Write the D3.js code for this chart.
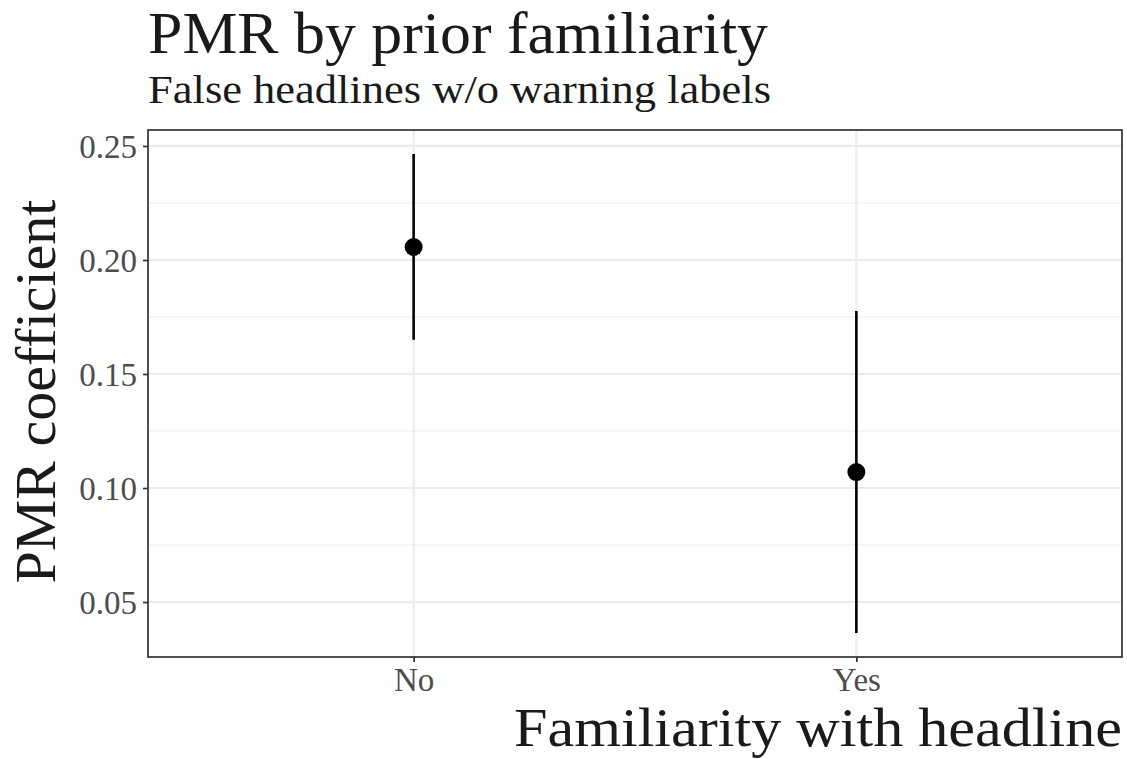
<!DOCTYPE html>
<html>
<head>
<meta charset="utf-8">
<script src="https://cdn.jsdelivr.net/npm/d3@7"></script>
<style>
  body { margin: 0; background: #fff; }
  svg text { font-family: "Liberation Serif", "DejaVu Serif", serif; }
</style>
</head>
<body>
<div id="chart"></div>
<script>
// data
var groups = ["No", "Yes"];
var estimates = [0.2057, 0.1070];
var lower = [0.1650, 0.0364];
var upper = [0.2465, 0.1776];
var yTicks = [0.05, 0.10, 0.15, 0.20, 0.25];
var yMinor = [0.075, 0.125, 0.175, 0.225];

function drawChart(el) {
  var W = 1127, H = 759;
  var margin = {top: 130, right: 5, bottom: 102, left: 148};
  var width = W - margin.left - margin.right,
      height = H - margin.top - margin.bottom;

  var svg = d3.select(el).append("svg")
      .attr("width", W)
      .attr("height", H);

  var g = svg.append("g")
      .attr("transform", "translate(" + margin.left + "," + margin.top + ")");

  // discrete x with ggplot style 0.6 expansion
  var x = d3.scaleLinear().domain([0.4, groups.length + 0.6]).range([0, width]);
  var lo = d3.min(lower), hi = d3.max(upper), pad = (hi - lo) * 0.05;
  var y = d3.scaleLinear().domain([lo - pad, hi + pad]).range([height, 0]);

  // grid
  g.selectAll(".minor").data(yMinor).enter().append("line")
      .attr("x1", 0).attr("x2", width)
      .attr("y1", function(d) { return y(d); })
      .attr("y2", function(d) { return y(d); })
      .attr("stroke", "#ebebeb").attr("stroke-width", 1.1);
  g.selectAll(".major").data(yTicks).enter().append("line")
      .attr("x1", 0).attr("x2", width)
      .attr("y1", function(d) { return y(d); })
      .attr("y2", function(d) { return y(d); })
      .attr("stroke", "#ebebeb").attr("stroke-width", 2.2);
  g.selectAll(".vmajor").data(groups).enter().append("line")
      .attr("x1", function(d, i) { return x(i + 1); })
      .attr("x2", function(d, i) { return x(i + 1); })
      .attr("y1", 0).attr("y2", height)
      .attr("stroke", "#ebebeb").attr("stroke-width", 2.2);

  // error bars
  g.selectAll(".err").data(groups).enter().append("line")
      .attr("x1", function(d, i) { return x(i + 1); })
      .attr("x2", function(d, i) { return x(i + 1); })
      .attr("y1", function(d, i) { return y(lower[i]); })
      .attr("y2", function(d, i) { return y(upper[i]); })
      .attr("stroke", "#000").attr("stroke-width", 2.6);

  // points
  g.selectAll(".pt").data(groups).enter().append("circle")
      .attr("cx", function(d, i) { return x(i + 1); })
      .attr("cy", function(d, i) { return y(estimates[i]); })
      .attr("r", 9)
      .attr("fill", "#000");

  // panel border
  g.append("rect")
      .attr("width", width).attr("height", height)
      .attr("fill", "none").attr("stroke", "#333333").attr("stroke-width", 1.7);

  // axes
  var yAxis = d3.axisLeft(y).tickValues(yTicks).tickFormat(d3.format(".2f"))
      .tickSize(5).tickPadding(6);
  var gy = g.append("g").call(yAxis);
  gy.select(".domain").remove();
  gy.selectAll(".tick line").attr("stroke", "#333333").attr("stroke-width", 1.7);
  gy.selectAll(".tick text").attr("fill", "#4d4d4d").style("font-size", "33px")
      .attr("dy", "0.34em");

  var xAxis = d3.axisBottom(x).tickValues([1, 2])
      .tickFormat(function(d) { return groups[d - 1]; })
      .tickSize(5).tickPadding(6);
  var gx = g.append("g").attr("transform", "translate(0," + height + ")").call(xAxis);
  gx.select(".domain").remove();
  gx.selectAll(".tick line").attr("stroke", "#333333").attr("stroke-width", 1.7);
  gx.selectAll(".tick text").attr("fill", "#4d4d4d").style("font-size", "33px")
      .attr("dy", "0.71em");

  // titles
  svg.append("text")
      .attr("x", margin.left).attr("y", 53)
      .style("font-size", "59px").attr("fill", "#1a1a1a")
      .attr("textLength", 620).attr("lengthAdjust", "spacingAndGlyphs")
      .text("PMR by prior familiarity");
  svg.append("text")
      .attr("x", margin.left).attr("y", 103)
      .style("font-size", "40px").attr("fill", "#1a1a1a")
      .attr("textLength", 623).attr("lengthAdjust", "spacingAndGlyphs")
      .text("False headlines w/o warning labels");

  svg.append("text")
      .attr("x", W - margin.right).attr("y", 746)
      .attr("text-anchor", "end")
      .style("font-size", "55px").attr("fill", "#1a1a1a")
      .attr("textLength", 608).attr("lengthAdjust", "spacingAndGlyphs")
      .text("Familiarity with headline");

  svg.append("text")
      .attr("transform", "translate(55," + (margin.top + height / 2 - 2) + ") rotate(-90)")
      .attr("text-anchor", "middle")
      .style("font-size", "58px").attr("fill", "#1a1a1a")
      .text("PMR coefficient");
}

drawChart("#chart");
</script>
</body>
</html>
